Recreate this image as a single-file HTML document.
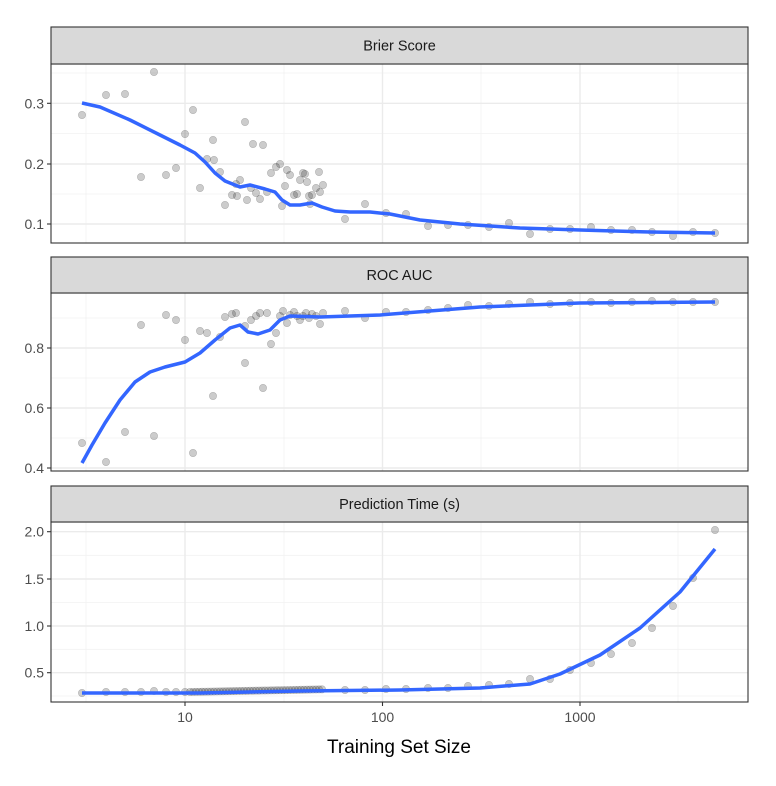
<!DOCTYPE html>
<html><head><meta charset="utf-8"><style>
body{margin:0;background:#fff;}
svg{display:block;font-family:"Liberation Sans",sans-serif;}
</style></head><body>
<svg id="s" width="776" height="786" xmlns="http://www.w3.org/2000/svg"></svg>
<script>
const s=document.getElementById('s');let h='';
const L=51,R=748;
const xs=d=>185+197.5*(Math.log10(d)-1);
const panels=[
 {st:27,top:64,bot:243,title:'Brier Score',ticks:[[0.1,224],[0.2,164],[0.3,103.3]],minor:[194,133.6,73],
  pts:[[82,115],[106,95],[125,94],[154,72],[141,177],[166,175],[176,168],[185,134],[193,110],[207,159],[213,140],[200,188],[214,160],[220,172],[225,205],[232,195],[236,184],[240,180],[245,122],[253,144],[237,196],[247,200],[251,188],[256,193],[260,199],[263,145],[267,192],[271,173],[276,167],[280,164],[282,206],[285,186],[287,170],[290,175],[294,195],[297,194],[300,180],[303,173],[305,174],[307,182],[309,196],[312,195],[316,188],[320,192],[319,172],[323,185],[310,204],[345,219],[365,204],[386,213],[406,214],[428,226],[448,225],[468,225],[489,227],[509,223],[530,234],[550,229],[570,229],[591,227],[611,230],[632,230],[652,232],[673,236],[693,232],[715,233]],
  curve:[[82,103],[100,107],[130,120],[160,135],[180,145],[195,153],[205,162],[215,173],[225,181],[240,187],[250,185],[265,189],[275,192],[282,200],[290,205],[300,205],[312,203],[322,207],[335,211],[350,212],[370,212],[390,214],[420,220],[460,224],[520,228],[580,230],[650,232],[715,233]]},
 {st:257,top:293,bot:471,title:'ROC AUC',ticks:[[0.4,468],[0.6,408],[0.8,348]],minor:[438,378,318],
  pts:[[82,443],[106,462],[125,432],[154,436],[141,325],[166,315],[176,320],[185,340],[193,453],[200,331],[207,333],[213,396],[220,337],[225,317],[232,314],[236,313],[245,363],[245,326],[251,320],[256,316],[260,313],[263,388],[267,313],[271,344],[276,333],[280,316],[283,311],[287,323],[290,315],[294,312],[297,316],[300,320],[303,316],[306,313],[309,318],[312,314],[316,316],[320,324],[323,313],[345,311],[365,318],[386,312],[406,312],[428,310],[448,308],[468,305],[489,306],[509,304],[530,302],[550,304],[570,303],[591,302],[611,303],[632,302],[652,301],[673,302],[693,302],[715,302]],
  curve:[[82,463],[92,445],[105,423],[120,400],[135,382],[150,372],[165,367],[185,362],[200,353],[215,340],[230,328],[240,325],[248,332],[258,334],[270,330],[280,320],[290,316],[320,317],[380,315],[480,307],[580,303],[715,302]]},
 {st:486,top:522,bot:702,title:'Prediction Time (s)',ticks:[[0.5,672.7],[1.0,626],[1.5,579],[2.0,531.7]],minor:[696,649.3,602.5,555.3],
  pts:[],curve:[[82,693],[200,693],[300,691],[400,690],[480,688],[530,684],[560,674],[600,655],[640,628],[680,592],[715,549]]}
];
// time points
const tp=[[82,693],[106,692],[125,692],[141,692],[154,691],[166,692],[176,692],[185,692]];
for(let x=190;x<=323;x+=3){tp.push([x,692-(x-190)*0.02]);}
[[345,690],[365,690],[386,689],[406,689],[428,688],[448,688],[468,686],[489,685],[509,684],[530,679],[550,679],[570,670],[591,663],[611,654],[632,643],[652,628],[673,606],[693,578],[715,530]].forEach(p=>tp.push(p));
panels[2].pts=tp;
const majX=[185,382.5,580],minX=[86,284,481,678];
panels.forEach(p=>{
 h+=`<rect x="${L}" y="${p.top}" width="${R-L}" height="${p.bot-p.top}" fill="#fff"/>`;
 p.minor.forEach(y=>h+=`<line x1="${L}" x2="${R}" y1="${y}" y2="${y}" stroke="#f2f2f2" stroke-width="0.8"/>`);
 minX.forEach(x=>h+=`<line x1="${x}" x2="${x}" y1="${p.top}" y2="${p.bot}" stroke="#f2f2f2" stroke-width="0.8"/>`);
 p.ticks.forEach(t=>h+=`<line x1="${L}" x2="${R}" y1="${t[1]}" y2="${t[1]}" stroke="#ebebeb" stroke-width="1.4"/>`);
 majX.forEach(x=>h+=`<line x1="${x}" x2="${x}" y1="${p.top}" y2="${p.bot}" stroke="#ebebeb" stroke-width="1.4"/>`);
 p.pts.forEach(q=>h+=`<circle cx="${q[0]}" cy="${q[1]}" r="3.7" fill="#000" fill-opacity="0.2" stroke="#000" stroke-opacity="0.2" stroke-width="0.6"/>`);
 h+=`<polyline fill="none" stroke="#3366FF" stroke-width="3.5" stroke-linejoin="round" points="${p.curve.map(q=>q.join(',')).join(' ')}"/>`;
 h+=`<rect x="${L}" y="${p.top}" width="${R-L}" height="${p.bot-p.top}" fill="none" stroke="#333" stroke-width="1.1"/>`;
 h+=`<rect x="${L}" y="${p.st}" width="${R-L}" height="${p.top-p.st}" fill="#d9d9d9" stroke="#333" stroke-width="1.1"/>`;
 h+=`<text x="${(L+R)/2}" y="${(p.st+p.top)/2+5}" text-anchor="middle" font-size="14.5" fill="#1a1a1a">${p.title}</text>`;
 p.ticks.forEach(t=>{h+=`<line x1="${L-4}" x2="${L}" y1="${t[1]}" y2="${t[1]}" stroke="#333" stroke-width="1.1"/>`;
  h+=`<text x="${L-7}" y="${t[1]+5}" text-anchor="end" font-size="14" fill="#4d4d4d">${t[0].toFixed(1)}</text>`;});
});
[[185,'10'],[382.5,'100'],[580,'1000']].forEach(t=>{h+=`<line x1="${t[0]}" x2="${t[0]}" y1="702" y2="706" stroke="#333" stroke-width="1.1"/>`;
 h+=`<text x="${t[0]}" y="722" text-anchor="middle" font-size="14" fill="#4d4d4d">${t[1]}</text>`;});
h+=`<text x="399" y="753" text-anchor="middle" font-size="19" fill="#000">Training Set Size</text>`;
s.innerHTML=h;
</script>
</body></html>
